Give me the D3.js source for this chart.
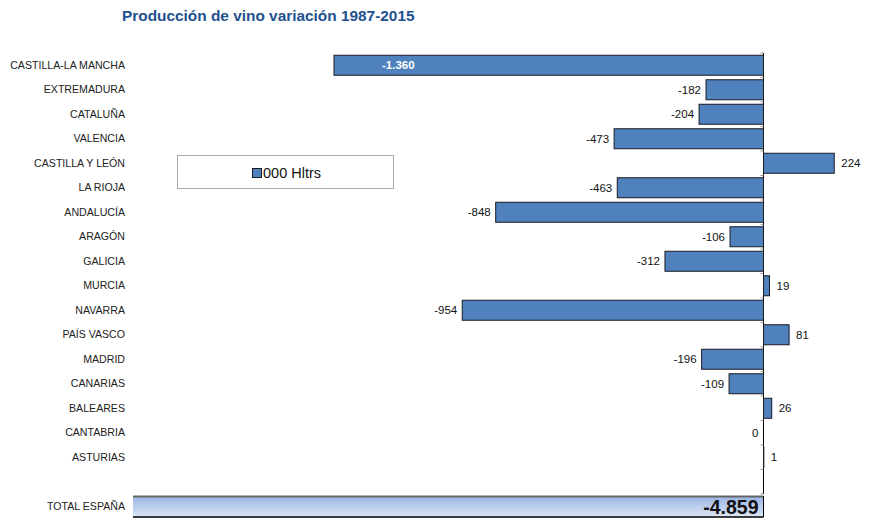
<!DOCTYPE html>
<html>
<head>
<meta charset="utf-8">
<script src="https://cdn.jsdelivr.net/npm/d3@7"></script>
<style>
  body { margin: 0; background: #fff; }
  svg { display: block; font-family: "Liberation Sans", Arial, sans-serif; }
</style>
</head>
<body>
<div id="chart"></div>
<script>
(function() {
  var WIDTH = 881, HEIGHT = 518;

  var regions = ['CASTILLA-LA MANCHA', 'EXTREMADURA', 'CATALUÑA', 'VALENCIA',
    'CASTILLA Y LEÓN', 'LA RIOJA', 'ANDALUCÍA', 'ARAGÓN', 'GALICIA', 'MURCIA',
    'NAVARRA', 'PAÍS VASCO', 'MADRID', 'CANARIAS', 'BALEARES', 'CANTABRIA', 'ASTURIAS'];
  var values = [-1360, -182, -204, -473, 224, -463, -848, -106, -312, 19,
    -954, 81, -196, -109, 26, 0, 1];
  var totalLabel = 'TOTAL ESPAÑA';
  var totalValue = -4859;
  var seriesName = '000 Hltrs';

  var locale = d3.formatLocale({ decimal: ',', thousands: '.', grouping: [3], currency: ['', '€'], minus: '-' });
  var fmt = locale.format(',d');

  var svg = d3.select('#chart').append('svg')
    .attr('width', WIDTH)
    .attr('height', HEIGHT);

  svg.append('text')
    .attr('x', 122).attr('y', 21)
    .attr('fill', '#23508e')
    .attr('font-size', 15.4)
    .attr('font-weight', 'bold')
    .text('Producción de vino variación 1987-2015');

  // one empty band at the bottom, like the original
  var y = d3.scaleBand()
    .domain(regions.concat(['']))
    .range([53, 494]);

  var x = d3.scaleLinear()
    .domain([-1360, 0])
    .range([334, 763.5]);

  var rows = regions.map(function(r, i) { return { name: r, value: values[i] }; });

  // axis with small ticks at the band boundaries
  svg.append('line')
    .attr('x1', x(0)).attr('x2', x(0))
    .attr('y1', y.range()[0]).attr('y2', y.range()[1])
    .attr('stroke', '#000');
  svg.selectAll('.tick')
    .data(d3.range(y.domain().length + 1))
    .enter().append('line')
    .attr('x1', x(0) - 3).attr('x2', x(0))
    .attr('y1', function(i) { return y.range()[0] + i * y.step(); })
    .attr('y2', function(i) { return y.range()[0] + i * y.step(); })
    .attr('stroke', '#999');

  svg.selectAll('.cat')
    .data(rows)
    .enter().append('text')
    .attr('x', 125)
    .attr('y', function(d) { return y(d.name) + y.bandwidth() / 2; })
    .attr('dy', '0.35em')
    .attr('text-anchor', 'end')
    .attr('font-size', 10.6)
    .attr('fill', '#222')
    .text(function(d) { return d.name; });

  var barH = 20;
  svg.selectAll('.bar')
    .data(rows)
    .enter().append('rect')
    .attr('x', function(d) { return Math.min(x(d.value), x(0)); })
    .attr('y', function(d) { return y(d.name) + (y.bandwidth() - barH) / 2; })
    .attr('width', function(d) { return Math.abs(x(d.value) - x(0)); })
    .attr('height', barH)
    .attr('fill', '#4f81bd')
    .attr('stroke', '#1b1b24')
    .attr('stroke-width', 1);

  svg.selectAll('.val')
    .data(rows)
    .enter().append('text')
    .attr('x', function(d) {
      if (d.value === d3.min(values)) return x(d.value) + 48;
      return d.value > 0 ? x(d.value) + 7 : x(d.value) - 5;
    })
    .attr('y', function(d) { return y(d.name) + y.bandwidth() / 2; })
    .attr('dy', '0.35em')
    .attr('text-anchor', function(d) {
      if (d.value === d3.min(values)) return 'start';
      return d.value > 0 ? 'start' : 'end';
    })
    .attr('font-size', 11.5)
    .attr('font-weight', function(d) { return d.value === d3.min(values) ? 'bold' : 'normal'; })
    .attr('fill', function(d) { return d.value === d3.min(values) ? '#fff' : '#111'; })
    .text(function(d) { return fmt(d.value); });

  // legend
  svg.append('rect')
    .attr('x', 177.5).attr('y', 155.5)
    .attr('width', 216).attr('height', 33)
    .attr('fill', '#fff')
    .attr('stroke', '#aaa');
  svg.append('rect')
    .attr('x', 252.5).attr('y', 168.5)
    .attr('width', 9).attr('height', 9)
    .attr('fill', '#4f81bd')
    .attr('stroke', '#1b1b24');
  svg.append('text')
    .attr('x', 263).attr('y', 173)
    .attr('dy', '0.35em')
    .attr('font-size', 14.5)
    .attr('fill', '#111')
    .text(seriesName);

  // total bar
  var defs = svg.append('defs');
  var grad = defs.append('linearGradient')
    .attr('id', 'totalGrad')
    .attr('x1', 0).attr('y1', 0).attr('x2', 0).attr('y2', 1);
  grad.append('stop').attr('offset', '0%').attr('stop-color', '#98b4e2');
  grad.append('stop').attr('offset', '100%').attr('stop-color', '#dde6f4');

  var xt = d3.scaleLinear()
    .domain([totalValue, 0])
    .range([133, 763.5]);
  var ty = 496, th = 21;

  svg.append('text')
    .attr('x', 125).attr('y', ty + th / 2)
    .attr('dy', '0.35em')
    .attr('text-anchor', 'end')
    .attr('font-size', 10.6)
    .attr('fill', '#222')
    .text(totalLabel);

  svg.append('rect')
    .attr('x', xt(totalValue)).attr('y', ty)
    .attr('width', xt(0) - xt(totalValue)).attr('height', th)
    .attr('fill', 'url(#totalGrad)');
  svg.append('line')
    .attr('x1', xt(totalValue)).attr('x2', xt(0))
    .attr('y1', ty + 0.5).attr('y2', ty + 0.5)
    .attr('stroke', '#666').attr('stroke-width', 2);
  svg.append('line')
    .attr('x1', xt(totalValue)).attr('x2', xt(0))
    .attr('y1', ty + th).attr('y2', ty + th)
    .attr('stroke', '#000').attr('stroke-width', 1.5);
  svg.append('line')
    .attr('x1', xt(0)).attr('x2', xt(0))
    .attr('y1', ty).attr('y2', ty + th)
    .attr('stroke', '#000');

  svg.append('text')
    .attr('x', xt(0) - 5).attr('y', ty + th / 2 + 1)
    .attr('dy', '0.35em')
    .attr('text-anchor', 'end')
    .attr('font-size', 19.5)
    .attr('font-weight', 'bold')
    .attr('fill', '#111')
    .text(fmt(totalValue));
})();
</script>
</body>
</html>
